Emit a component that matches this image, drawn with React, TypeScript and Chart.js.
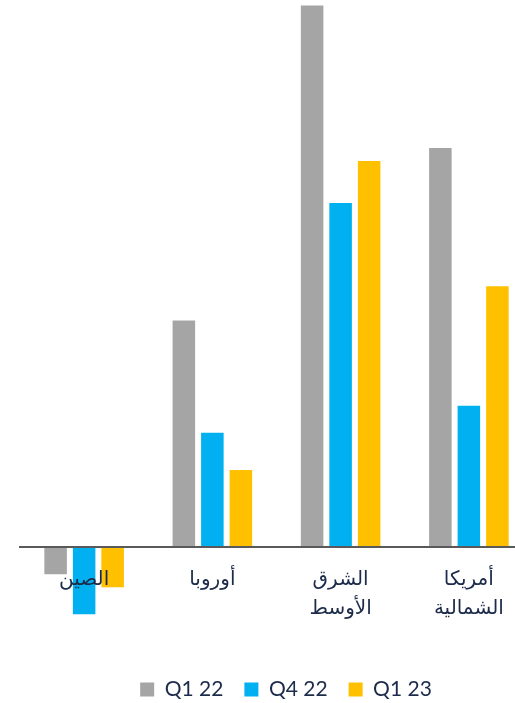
import React, { useEffect, useRef } from "react";
import { Chart, registerables } from "chart.js";

Chart.register(...registerables);

const categories: string[][] = [["الصين"], ["أوروبا"], ["الشرق", "الأوسط"], ["أمريكا", "الشمالية"]];
const seriesNames = ["Q1 22", "Q4 22", "Q1 23"];
const q122 = [-2.7, 22.6, 54.0, 39.8];
const q422 = [-6.7, 11.4, 34.3, 14.1];
const q123 = [-4.0, 7.7, 38.5, 26.0];
const colors = ["#A5A5A5", "#00B0F0", "#FFC000"];

const TEXT = "#1C2B4A";
const FONT = "Lato, 'DejaVu Sans', sans-serif";

export default function App() {
  const ref = useRef<HTMLCanvasElement | null>(null);
  useEffect(() => {
    if (!ref.current) return;
    const chart = new Chart(ref.current, {
      type: "bar",
      data: {
        labels: categories,
        datasets: [q122, q422, q123].map((d, i) => ({
          label: seriesNames[i],
          data: d,
          backgroundColor: colors[i],
          borderWidth: 0,
          categoryPercentage: 0.667,
          barPercentage: 0.79,
        })),
      },
      options: {
        responsive: false,
        animation: false,
        devicePixelRatio: 1,
        layout: { padding: { left: 0, right: 0, top: 5, bottom: 10 } },
        plugins: {
          tooltip: { enabled: false },
          legend: {
            position: "bottom",
            labels: {
              boxWidth: 14,
              boxHeight: 14,
              padding: 21,
              color: TEXT,
              font: { family: FONT, size: 21 },
            },
          },
        },
        scales: {
          x: {
            position: { y: 0 } as any,
            grid: { display: false, drawTicks: false },
            border: { display: true, color: "#595959", width: 2, z: 1 },
            ticks: {
              z: 1,
              padding: 17,
              color: TEXT,
              font: { family: FONT, size: 20, lineHeight: 1.45 },
              maxRotation: 0,
            },
          },
          y: {
            display: true,
            position: "left",
            min: -11.05,
            max: 54.05,
            grid: { display: false, drawTicks: false },
            border: { display: false },
            ticks: { display: false },
            afterFit: (s: any) => { s.width = 20; },
          },
          y2: {
            display: true,
            position: "right",
            min: -11.05,
            max: 54.05,
            grid: { display: false, drawTicks: false },
            border: { display: false },
            ticks: { display: false },
            afterFit: (s: any) => { s.width = 39; },
          },
        },
      },
    });
    return () => chart.destroy();
  }, []);
  return (
    <div style={{ position: "absolute", left: 0, top: 0, width: 515, height: 703, overflow: "hidden", background: "#fff" }}>
      <canvas ref={ref} width={572} height={720} style={{ display: "block" }} />
    </div>
  );
}
